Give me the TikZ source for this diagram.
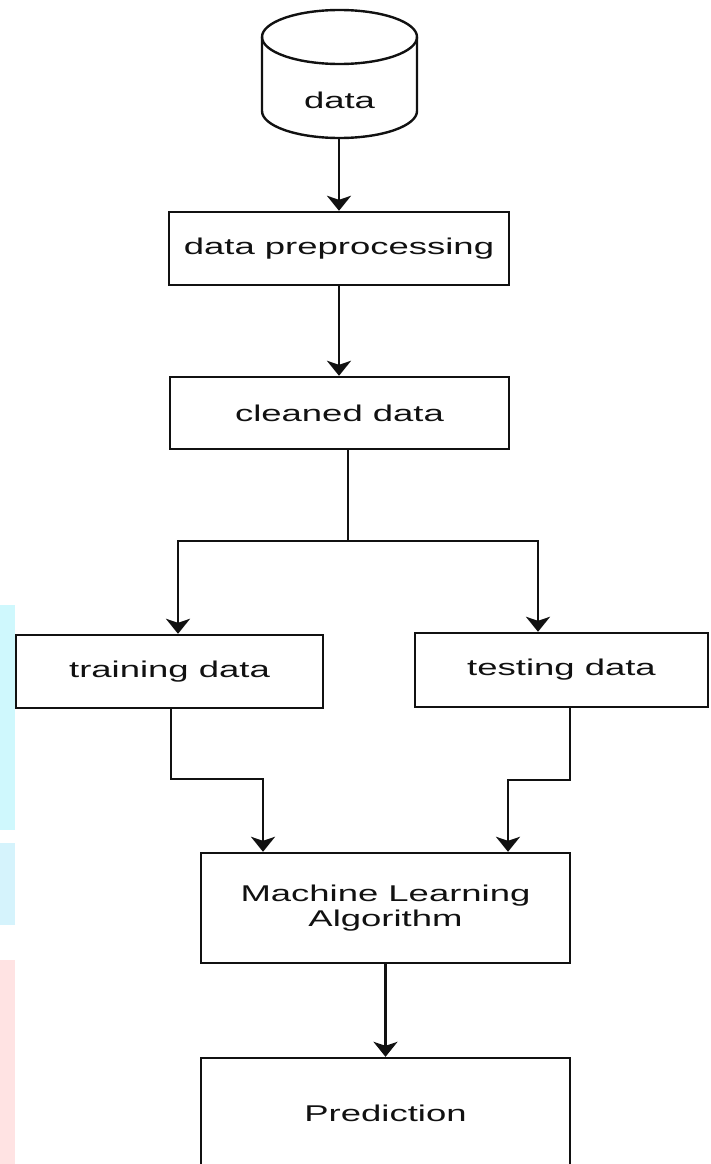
\documentclass[tikz,border=0pt]{standalone}
\usepackage{fontspec}
\setmainfont{Liberation Sans}[FakeStretch=1.6]
\usetikzlibrary{arrows.meta,calc}
\definecolor{wmcyan}{HTML}{CFF8FD}
\definecolor{wmcyanb}{HTML}{D5F3FC}
\definecolor{wmpink}{HTML}{FFE3E3}
\definecolor{ink}{HTML}{111111}
\begin{document}
\begin{tikzpicture}[x=1pt,y=1pt,
  every node/.style={font=\fontsize{22.8}{25}\selectfont, text=ink, align=center},
  box/.style={draw=ink, line width=2.4pt, rectangle, inner sep=0pt},
  arr/.style={draw=ink, line width=2.4pt, -{Stealth[length=15pt,width=24pt,inset=4pt]}},
  ln/.style={draw=ink, line width=2.4pt}]
\useasboundingbox (0,0) rectangle (711,-1164);
\clip (0,0) rectangle (711,-1164);
% watermark fragments at the left edge
\fill[wmcyan] (0,-605) rectangle (15,-830);
\fill[wmcyanb] (0,-843) rectangle (15,-925);
\fill[wmpink] (0,-960) rectangle (15,-1164);
% cylinder
\node (db) at (339.5,-74) [minimum width=155pt, minimum height=128pt, inner sep=0pt] {};
\node at (339.5,-100) {data};
\draw[ln] (339.5,-37) ellipse [x radius=77.5pt, y radius=27pt];
\draw[ln] (262,-37) -- (262,-111) arc [start angle=180, end angle=360, x radius=77.5pt, y radius=27pt] -- (417,-37);
\coordinate (dbbot) at (339,-138);
% boxes
\node[box, minimum width=340pt, minimum height=73pt] (dp) at (339,-248.5) {data preprocessing};
\node[box, minimum width=339pt, minimum height=72pt] (cd) at (339.5,-413) {cleaned data};
\node[box, minimum width=307pt, minimum height=73pt] (train) at (169.5,-671.5) {training data};
\node[box, minimum width=293pt, minimum height=74pt] (test) at (561.5,-670) {testing data};
\node[box, minimum width=369pt, minimum height=110pt] (ml) at (385.5,-908) {Machine Learning\\Algorithm};
\node[box, minimum width=369pt, minimum height=110pt] (pred) at (385.5,-1113) {Prediction};
% connectors
\draw[arr] (dbbot) -- (dbbot |- dp.north);
\draw[arr] (dp.south) -- (dp.south |- cd.north);
\coordinate (split) at (348,-541);
\draw[ln] (cd.south -| split) -- (split);
\draw[arr] (split) -| ([xshift=8.5pt]train.north);
\draw[arr] (split) -| ([xshift=-23.5pt]test.north);
\coordinate (tr1) at (171,-779);
\coordinate (te1) at (570,-780);
\draw[arr] (tr1 |- train.south) -- (tr1) -| ([xshift=-122.5pt]ml.north);
\draw[arr] (te1 |- test.south) -- (te1) -| ([xshift=122.5pt]ml.north);
\draw[arr] (ml.south) -- (pred.north);
\end{tikzpicture}
\end{document}
